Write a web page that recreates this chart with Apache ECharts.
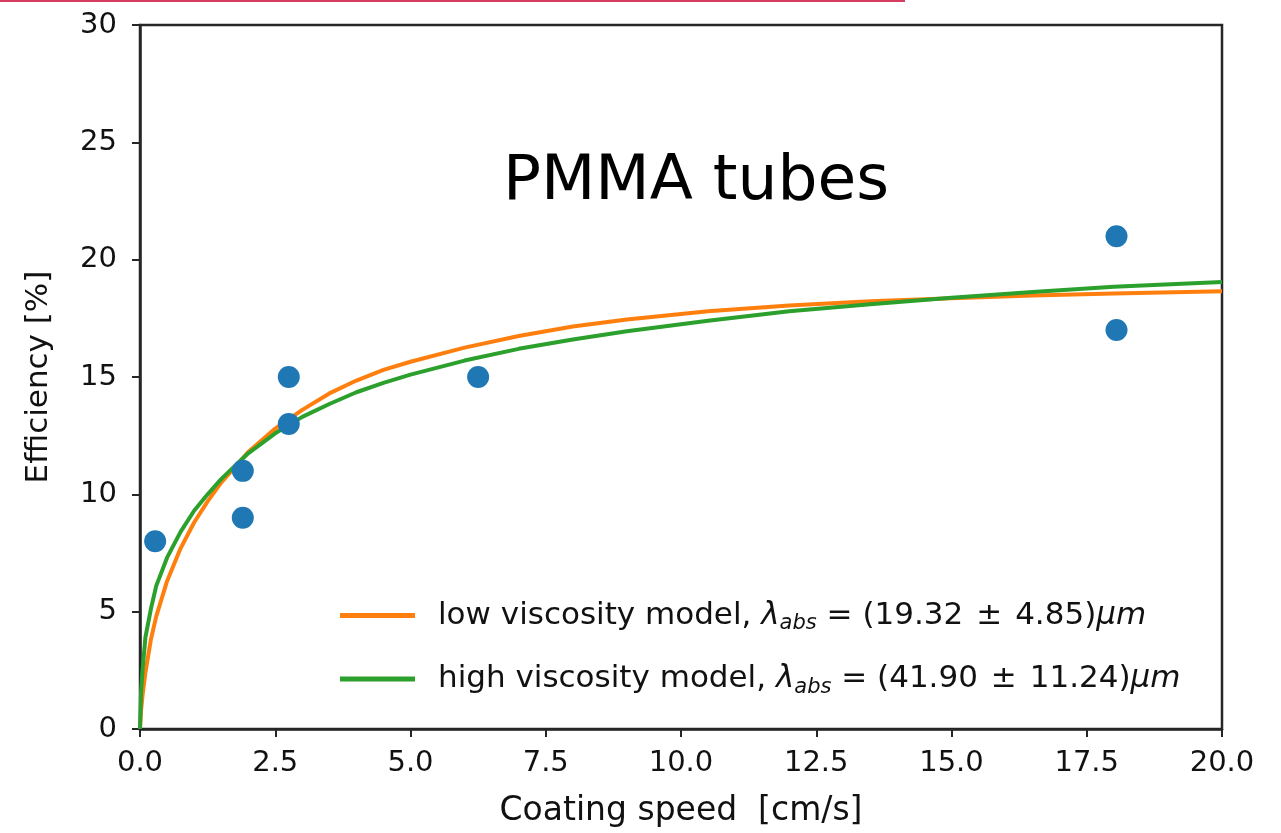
<!DOCTYPE html>
<html>
<head>
<meta charset="utf-8">
<script src="https://cdn.jsdelivr.net/npm/echarts@6/dist/echarts.min.js"></script>
<style>html,body{margin:0;padding:0;background:#fff;}#c{width:1281px;height:833px;}</style>
</head>
<body>
<div id="c"></div>
<script>
// Measured data points
const measuredSpeed = [0.28, 1.9, 1.9, 2.75, 2.75, 6.25, 18.05, 18.05];
const measuredEff   = [8, 11, 9, 15, 13, 15, 21, 17];

// Model curves
const curveSpeed = [0, 0.02, 0.05, 0.1, 0.2, 0.3, 0.5, 0.75, 1, 1.25, 1.5, 2, 2.5, 3, 3.5, 4, 4.5, 5, 6, 7, 8, 9, 10.5, 12, 13.5, 15, 16.5, 18, 20];
const lowVisc  = [0, 0.8, 1.5, 2.4, 3.8, 4.8, 6.3, 7.7, 8.8, 9.7, 10.5, 11.8, 12.8, 13.6, 14.3, 14.85, 15.3, 15.65, 16.25, 16.75, 17.15, 17.45, 17.8, 18.05, 18.23, 18.36, 18.47, 18.56, 18.65];
const highVisc = [0, 1.6, 2.6, 3.9, 5.1, 6.1, 7.3, 8.4, 9.3, 10.0, 10.65, 11.75, 12.6, 13.3, 13.85, 14.35, 14.75, 15.1, 15.7, 16.2, 16.6, 16.95, 17.4, 17.8, 18.1, 18.38, 18.62, 18.85, 19.05];

const xTicks = [0, 2.5, 5, 7.5, 10, 12.5, 15, 17.5, 20];
const yTicks = [0, 5, 10, 15, 20, 25, 30];

const lowName = 'low viscosity model';
const highName = 'high viscosity model';
const legendExtra = {};
legendExtra[lowName]  = ['19.32', '4.85'];
legendExtra[highName] = ['41.90', '11.24'];

const FONT = 'DejaVu Sans';
const chart = echarts.init(document.getElementById('c'), null, {renderer: 'canvas'});

const option = {
  backgroundColor: '#fff',
  animation: false,
  graphic: [{
    type: 'rect', left: 0, top: 0, shape: {width: 905, height: 2},
    style: {fill: '#d63c5f'}
  }],
  title: {
    text: 'PMMA tubes', left: 498, top: 146,
    textStyle: {fontFamily: FONT, fontSize: 63, fontWeight: 'normal', color: '#000'}
  },
  grid: {left: 140, right: 59, top: 25, bottom: 103, show: true, borderColor: '#262626', borderWidth: 2.5, backgroundColor: 'transparent'},
  xAxis: {
    type: 'value', min: xTicks[0], max: xTicks[xTicks.length - 1], interval: 2.5,
    name: 'Coating speed  [cm/s]', nameLocation: 'middle', nameGap: 66,
    nameTextStyle: {fontFamily: FONT, fontSize: 33, color: '#111'},
    axisLine: {show: true, onZero: false, lineStyle: {color: '#262626', width: 2.5}},
    axisTick: {show: true, length: 8, lineStyle: {color: '#262626', width: 2}},
    axisLabel: {fontFamily: FONT, fontSize: 29, color: '#111', margin: 20, formatter: v => v.toFixed(1)},
    splitLine: {show: false}
  },
  yAxis: {
    type: 'value', min: yTicks[0], max: yTicks[yTicks.length - 1], interval: 5,
    name: 'Efficiency [%]', nameLocation: 'middle', nameGap: 86,
    nameTextStyle: {fontFamily: FONT, fontSize: 31, color: '#111'},
    axisLine: {show: true, lineStyle: {color: '#262626', width: 2.5}},
    axisTick: {show: true, length: 8, lineStyle: {color: '#262626', width: 2}},
    axisLabel: {fontFamily: FONT, fontSize: 29, color: '#111', margin: 23},
    splitLine: {show: false}
  },
  legend: {
    orient: 'vertical', left: 335, top: 595, itemGap: 29,
    icon: 'rect', itemWidth: 75, itemHeight: 5,
    data: [lowName, highName],
    formatter: function (name) {
      const e = legendExtra[name];
      return '{n|' + name + ', }{l|λ}{s|abs}{n| = (' + e[0] + ' \u200a±\u200a ' + e[1] + ')}{l|μm}';
    },
    textStyle: {
      padding: [0, 0, 0, 18],
      rich: {
        n: {fontFamily: FONT, fontSize: 31, color: '#111', lineHeight: 38},
        l: {fontFamily: FONT, fontSize: 31, fontStyle: 'italic', color: '#111', lineHeight: 38},
        s: {fontFamily: FONT, fontSize: 21, fontStyle: 'italic', color: '#111', lineHeight: 38, verticalAlign: 'bottom', padding: [10, 0, 0, 0]}
      }
    }
  },
  series: [
    {
      name: lowName, type: 'line', showSymbol: false, smooth: false,
      data: curveSpeed.map((x, i) => [x, lowVisc[i]]),
      lineStyle: {color: '#ff7f0e', width: 4}, itemStyle: {color: '#ff7f0e'}, z: 2
    },
    {
      name: highName, type: 'line', showSymbol: false, smooth: false,
      data: curveSpeed.map((x, i) => [x, highVisc[i]]),
      lineStyle: {color: '#2ca02c', width: 4}, itemStyle: {color: '#2ca02c'}, z: 3
    },
    {
      name: 'data', type: 'scatter', symbolSize: 22,
      data: measuredSpeed.map((x, i) => [x, measuredEff[i]]),
      itemStyle: {color: '#1f77b4', opacity: 1}, z: 4
    }
  ]
};
chart.setOption(option);
</script>
</body>
</html>
